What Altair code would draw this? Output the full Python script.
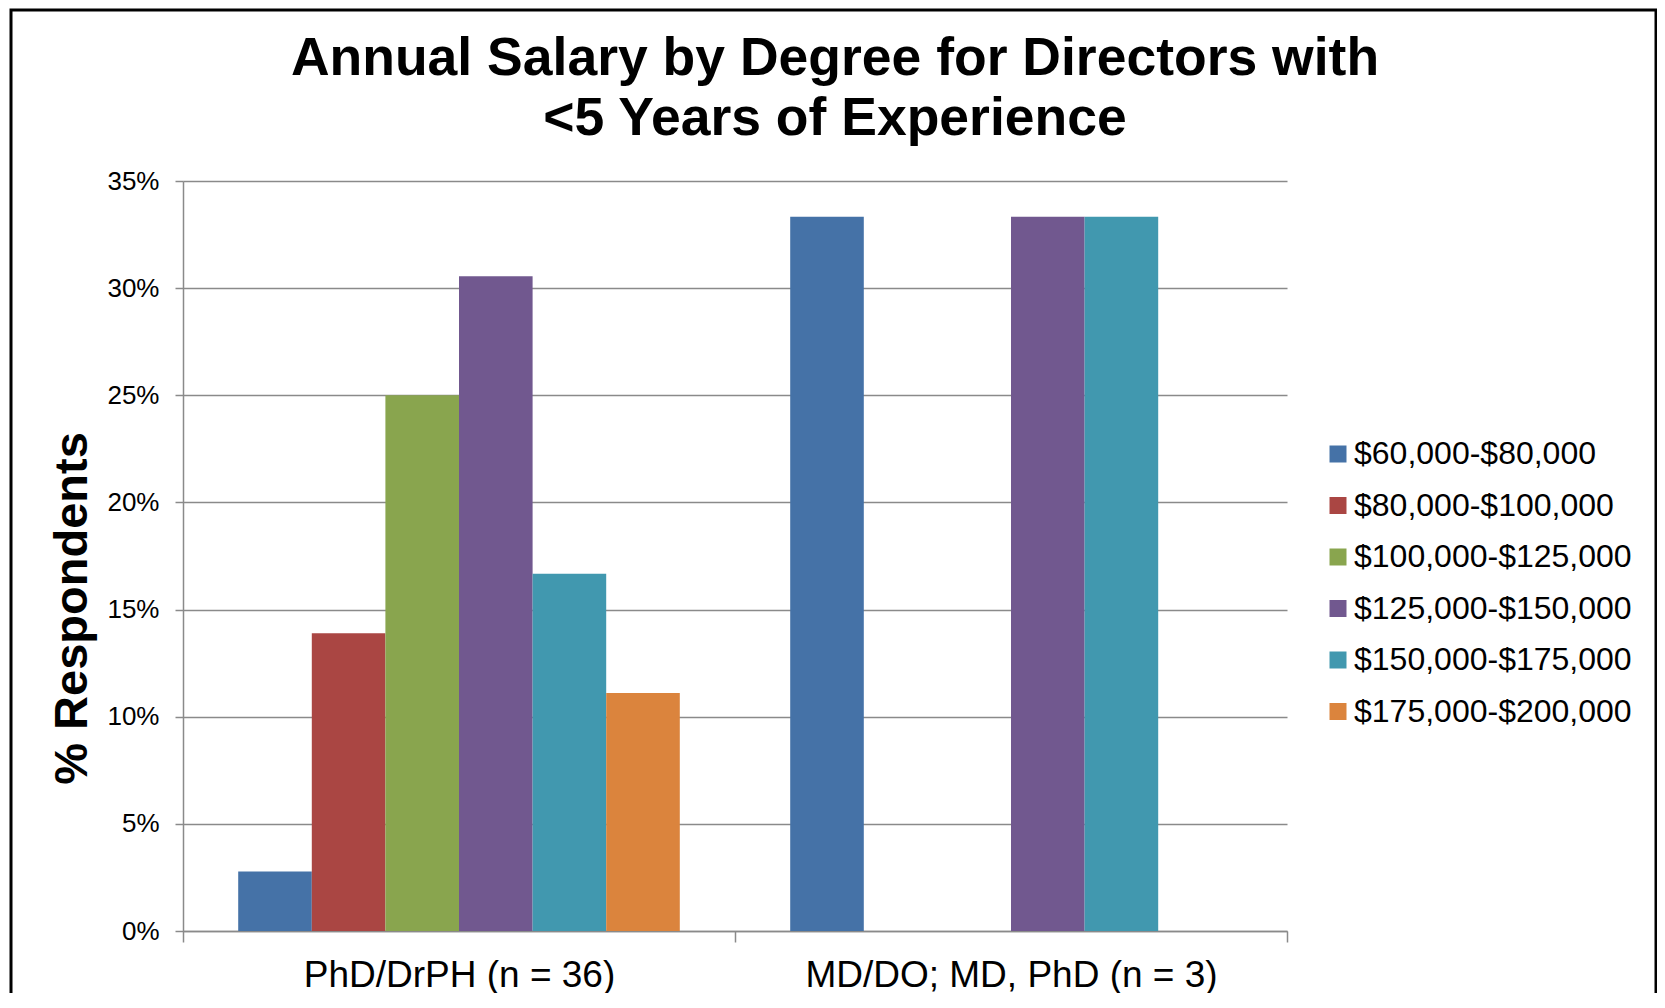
import altair as alt
import pandas as pd

brackets = ["$60,000-$80,000", "$80,000-$100,000", "$100,000-$125,000",
            "$125,000-$150,000", "$150,000-$175,000", "$175,000-$200,000"]
degrees = ["PhD/DrPH (n = 36)", "MD/DO; MD, PhD (n = 3)"]
phd_values = [2.78, 13.89, 25.0, 30.56, 16.67, 11.11]
md_values = [33.33, 0.0, 0.0, 33.33, 33.33, 0.0]
colors = ["#4572A7", "#AA4643", "#89A54E", "#71588F", "#4198AF", "#DB843D"]
y_ticks = [0, 5, 10, 15, 20, 25, 30, 35]

rows = []
for deg, vals in zip(degrees, [phd_values, md_values]):
    for b, v in zip(brackets, vals):
        rows.append({"degree": deg, "bracket": b, "pct": v})
df = pd.DataFrame(rows)

FONT = "Liberation Sans"
GRAY = "#8a8a8a"

bars = alt.Chart(df).mark_bar().encode(
    x=alt.X("degree:N", sort=degrees,
            scale=alt.Scale(paddingInner=0, paddingOuter=0),
            axis=alt.Axis(title=None, labelAngle=0, labelFontSize=37, labelFont=FONT,
                          labelColor="black", labelBaseline="middle", labelPadding=33,
                          labelLimit=0,
                          tickBand="extent", tickSize=11, tickColor=GRAY, tickWidth=1.5,
                          domainColor=GRAY, domainWidth=1.5, grid=False)),
    xOffset=alt.XOffset("bracket:N", sort=brackets,
                        scale=alt.Scale(paddingInner=0, paddingOuter=0.75)),
    y=alt.Y("pct:Q", scale=alt.Scale(domain=[0, 35], nice=False),
            axis=alt.Axis(title="% Respondents", values=y_ticks,
                          labelExpr="datum.value + '%'",
                          labelFontSize=26, labelFont=FONT, labelColor="black",
                          labelPadding=16, tickSize=8, tickColor=GRAY, tickWidth=1.5,
                          domainColor=GRAY, domainWidth=1.5,
                          gridColor=GRAY, gridWidth=1.5,
                          titleFontSize=47, titleFont=FONT, titleFontWeight="bold",
                          titleColor="black", titleX=-111, titleY=427,
                          titleBaseline="middle", titleAlign="center", titleAngle=-90)),
    color=alt.Color("bracket:N", sort=brackets,
                    scale=alt.Scale(domain=brackets, range=colors),
                    legend=alt.Legend(title=None, orient="none", legendX=1139, legendY=257,
                                      symbolType="square", symbolSize=289,
                                      symbolStrokeWidth=0, labelFontSize=32,
                                      labelFont=FONT, labelColor="black",
                                      labelOffset=0, rowPadding=19.5, labelLimit=0,
                                      padding=0)),
)

border = alt.Chart(alt.Data(values=[{"a": 1}])).mark_rect(
    fill="transparent", stroke="black", strokeWidth=3
).encode(
    x=alt.value(-172), x2=alt.value(1473),
    y=alt.value(-171), y2=alt.value(900),
)

chart = alt.layer(bars, border).properties(
    width=1104, height=750,
    title=alt.TitleParams(
        text=["Annual Salary by Degree for Directors with", "<5 Years of Experience"],
        fontSize=53.5, font=FONT, fontWeight="bold", color="black",
        lineHeight=60, anchor="middle", dx=100, dy=138, offset=0),
    autosize=alt.AutoSizeParams(type="none"),
    padding={"left": 175, "top": 173, "right": 370, "bottom": 62},
).configure_view(stroke=None)

chart.save("out.html", embed_options={"renderer": "svg", "actions": False})
